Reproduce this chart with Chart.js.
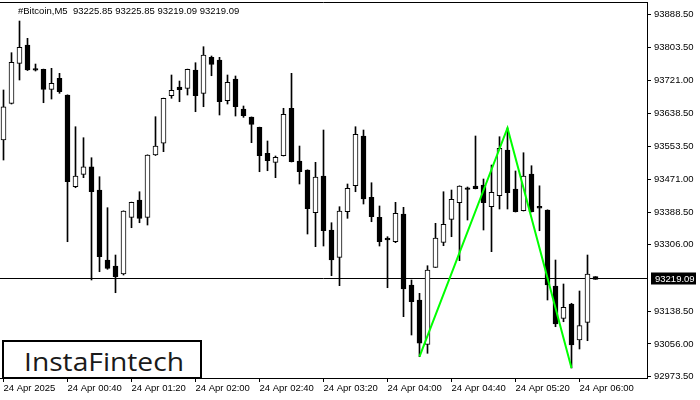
<!DOCTYPE html>
<html>
<head>
<meta charset="utf-8">
<script src="https://cdn.jsdelivr.net/npm/chart.js@4.4.1/dist/chart.umd.min.js"></script>
<style>
  body { margin: 0; background: #fff; }
  #wrap { position: relative; width: 700px; height: 400px; background: #fff; overflow: hidden; }
  #chart { position: absolute; left: 0; top: 0; }
  #title {
    position: absolute; left: 18px; top: 5px;
    font: 9.5px "Liberation Sans", Arial, sans-serif; color: #000; white-space: pre;
  }
  #logo {
    position: absolute; left: 2px; top: 340px; width: 196px; height: 35px;
    border: 2px solid #000; background: #fff;
  }
  #logo span {
    position: absolute; left: 20px; top: 2px; display: inline-block;
    font: 25px "Open Sans", sans-serif; color: #1a1a1a; transform-origin: 0 0; white-space: nowrap;
  }
</style>
</head>
<body>
<div id="wrap">
  <canvas id="chart" width="700" height="400"></canvas>
  <div id="title">#Bitcoin,M5  93225.85 93225.85 93219.09 93219.09</div>
  <div id="logo"><span id="logoText">InstaFintech</span></div>
</div>
<script>
// Dữ liệu nến M5 (00:00 -> 06:10)
const opens = [93570.6, 93663.2, 93764.1, 93810.3, 93750.5, 93749.0, 93698.5, 93726.3, 93684.1, 93452.8,
  93484.0, 93503.2, 93444.4, 93267.8, 93252.7, 93232.5, 93375.5, 93419.2, 93375.5, 93532.7,
  93562.3, 93682.3, 93704.3, 93701.0, 93747.2, 93688.4, 93779.2, 93772.4, 93669.7, 93724.5,
  93648.8, 93628.3, 93602.6, 93537.0, 93514.3, 93531.0, 93650.6, 93517.6, 93494.9, 93387.2,
  93479.8, 93343.5, 93274.6, 93389.7, 93455.3, 93580.7, 93426.0, 93375.5, 93323.3, 93314.0,
  93383.9, 93204.7, 93166.9, 93055.1, 93249.4, 93312.5, 93370.5, 93412.4, 93450.2, 93454.5,
  93457.0, 93402.3, 93430.0, 93545.3, 93447.0, 93392.2, 93484.8, 93403.3, 93394.0, 93202.2,
  93120.7, 93156.8, 93066.0, 93110.6, 93225.85];
const highs = [93696.8, 93790.9, 93870.8, 93827.2, 93762.3, 93749.5, 93751.5, 93738.9, 93684.6, 93604.1,
  93576.4, 93525.9, 93478.0, 93399.8, 93280.4, 93391.9, 93413.9, 93440.1, 93533.2, 93629.4,
  93676.3, 93734.6, 93719.4, 93749.5, 93765.6, 93806.0, 93782.5, 93779.2, 93734.6, 93732.1,
  93656.4, 93628.8, 93603.1, 93568.1, 93530.2, 93650.6, 93738.9, 93555.4, 93495.4, 93514.3,
  93595.8, 93361.9, 93402.3, 93459.6, 93604.1, 93595.8, 93462.8, 93404.1, 93326.6, 93413.4,
  93400.8, 93217.4, 93183.8, 93253.4, 93360.4, 93440.1, 93444.4, 93455.0, 93452.0, 93580.7,
  93472.2, 93507.5, 93578.9, 93600.9, 93492.4, 93538.5, 93505.7, 93455.0, 93394.5, 93267.8,
  93207.3, 93158.6, 93189.6, 93280.4, 93225.85];
const lows = [93520.1, 93661.4, 93722.0, 93745.9, 93744.7, 93664.7, 93674.0, 93688.4, 93314.0, 93450.2,
  93475.5, 93217.4, 93238.3, 93244.4, 93185.3, 93230.0, 93349.3, 93361.9, 93356.1, 93531.5,
  93541.1, 93675.8, 93667.2, 93684.1, 93642.0, 93654.6, 93732.8, 93633.7, 93661.4, 93631.1,
  93627.8, 93563.8, 93490.6, 93493.1, 93475.5, 93530.2, 93515.1, 93459.6, 93333.4, 93301.4,
  93303.1, 93228.2, 93203.0, 93373.0, 93440.1, 93409.1, 93364.4, 93303.1, 93197.9, 93311.5,
  93124.8, 93078.6, 93023.8, 93032.4, 93249.0, 93303.9, 93326.6, 93266.1, 93368.7, 93447.2,
  93343.5, 93288.8, 93396.5, 93396.5, 93388.9, 93391.4, 93388.9, 93341.7, 93166.9, 93099.5,
  93112.1, 92995.3, 93043.3, 93064.2, 93219.09];
const closes = [93654.6, 93766.6, 93804.5, 93747.2, 93746.5, 93698.5, 93713.6, 93692.4, 93465.4, 93479.8,
  93503.2, 93440.1, 93276.2, 93246.9, 93225.7, 93391.4, 93413.4, 93373.0, 93532.7, 93555.4,
  93675.8, 93696.0, 93697.5, 93749.0, 93682.3, 93785.0, 93761.6, 93667.2, 93716.2, 93654.6,
  93631.9, 93610.2, 93531.0, 93518.4, 93526.9, 93635.4, 93515.8, 93490.6, 93397.2, 93477.2,
  93341.7, 93267.8, 93391.4, 93448.7, 93585.0, 93421.7, 93377.1, 93314.0, 93318.3, 93385.6,
  93194.7, 93162.6, 93057.7, 93242.6, 93323.3, 93357.9, 93421.0, 93454.5, 93446.2, 93447.7,
  93412.4, 93438.6, 93549.6, 93437.6, 93389.7, 93479.8, 93389.7, 93398.5, 93204.7, 93106.3,
  93148.5, 93053.4, 93102.1, 93232.5, 93219.09];

// Nhãn trục thời gian (mỗi 8 nến = 40 phút)
const timeTickIdx = [0, 8, 16, 24, 32, 40, 48, 56, 64, 72];
const timeTickLabels = ['24 Apr 2025', '24 Apr 00:40', '24 Apr 01:20', '24 Apr 02:00', '24 Apr 02:40',
  '24 Apr 03:20', '24 Apr 04:00', '24 Apr 04:40', '24 Apr 05:20', '24 Apr 06:00'];

// Nhãn trục giá
const priceTicks = [93888.5, 93803.5, 93721.0, 93638.5, 93553.5, 93471.0, 93388.5, 93306.0, 93138.5, 93056.0, 92973.5];
const bidPrice = 93219.09;

// Mô hình hai đáy (đáy - đỉnh - đáy)
const patternIdx = [52, 63, 71];
const patternPrice = [93023.8, 93600.9, 92995.3];

const axisFont = { family: '"Liberation Sans", Arial, sans-serif', size: 9.5 };

const bodyData = opens.map((o, i) => ({ x: i, y: [o, closes[i]] }));
const wickData = lows.map((l, i) => ({ x: i, y: [l, highs[i]] }));
const patternData = patternIdx.map((x, i) => ({ x: x, y: patternPrice[i] }));

// Vẽ đường giá Bid, viền trên và nhãn giá hiện tại
const bidPlugin = {
  id: 'bidLine',
  beforeDatasetsDraw(chart) {
    const { ctx, chartArea } = chart;
    const y = Math.round(chart.scales.y.getPixelForValue(bidPrice)) - 0.5;
    ctx.save();
    ctx.strokeStyle = '#000';
    ctx.lineWidth = 1;
    ctx.beginPath();
    ctx.moveTo(chartArea.left, y);
    ctx.lineTo(chartArea.right, y);
    ctx.moveTo(0, chartArea.top + 0.5);
    ctx.lineTo(chartArea.right, chartArea.top + 0.5);
    ctx.stroke();
    ctx.restore();
  },
  afterDraw(chart) {
    const { ctx, chartArea } = chart;
    const y = Math.round(chart.scales.y.getPixelForValue(bidPrice)) - 0.5;
    ctx.save();
    ctx.fillStyle = '#000';
    ctx.fillRect(chartArea.right + 4, y - 6, 45, 12);
    ctx.fillStyle = '#fff';
    ctx.font = '9.5px "Liberation Sans", Arial, sans-serif';
    ctx.textBaseline = 'middle';
    ctx.fillText(bidPrice.toFixed(2), chartArea.right + 8, y + 0.5);
    ctx.restore();
  }
};

const ctx = document.getElementById('chart').getContext('2d');
const chart = new Chart(ctx, {
  type: 'bar',
  data: {
    datasets: [
      {
        type: 'line',
        data: patternData,
        borderColor: '#00ff00',
        borderWidth: 2,
        pointRadius: 0,
        order: 0
      },
      {
        data: bodyData,
        grouped: false,
        barThickness: 5,
        borderWidth: 1,
        borderColor: '#000',
        borderSkipped: false,
        backgroundColor: (c) => {
          const i = c.dataIndex;
          return closes[i] > opens[i] ? '#fff' : '#000';
        },
        order: 1
      },
      {
        data: wickData,
        grouped: false,
        barThickness: 1,
        backgroundColor: '#000',
        borderWidth: 0,
        order: 2
      }
    ]
  },
  options: {
    responsive: false,
    animation: false,
    devicePixelRatio: 1,
    layout: { padding: { top: 2, left: 0, right: 0, bottom: 0 } },
    plugins: { legend: { display: false }, tooltip: { enabled: false } },
    scales: {
      x: {
        type: 'linear',
        offset: false,
        min: -0.4375,
        max: 80.4375,
        grid: { offset: false, drawOnChartArea: false, drawTicks: true, tickLength: 4, color: '#000' },
        border: { display: true, color: '#000' },
        afterBuildTicks: (s) => { s.ticks = timeTickIdx.map(v => ({ value: v })); },
        afterFit: (s) => { s.height = 22; s.paddingLeft = 0; s.paddingRight = 0; },
        ticks: {
          autoSkip: false, maxRotation: 0, minRotation: 0, align: 'start', padding: 1,
          color: '#000', font: axisFont,
          callback: (v) => timeTickLabels[timeTickIdx.indexOf(v)]
        }
      },
      y: {
        type: 'linear',
        position: 'right',
        min: 92970.1,
        max: 93918.8,
        grid: { drawOnChartArea: false, drawTicks: true, tickLength: 4, color: '#000' },
        border: { display: true, color: '#000' },
        afterBuildTicks: (s) => { s.ticks = priceTicks.map(v => ({ value: v })); },
        afterFit: (s) => { s.width = 53; s.paddingTop = 0; s.paddingBottom = 0; },
        ticks: { padding: 3, color: '#000', font: axisFont, callback: (v) => v.toFixed(2) }
      }
    }
  },
  plugins: [bidPlugin]
});

// Co giãn chữ logo cho vừa khung
const logoText = document.getElementById('logoText');
const w = logoText.getBoundingClientRect().width;
logoText.style.transform = 'scaleX(' + (160 / w) + ')';
</script>
</body>
</html>
